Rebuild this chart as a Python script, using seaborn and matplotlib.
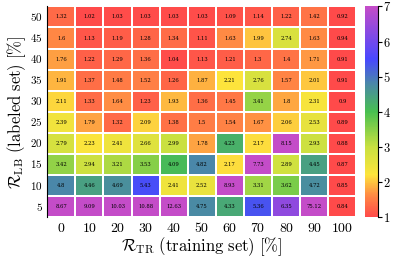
import numpy as np
import pandas as pd
import seaborn as sns
from matplotlib import pyplot as plt
from matplotlib.colors import LinearSegmentedColormap

# training ratio (columns) and labeled ratio (rows, top to bottom)
r_tr = [0, 10, 20, 30, 40, 50, 60, 70, 80, 90, 100]
r_lb = [50, 45, 40, 35, 30, 25, 20, 15, 10, 5]

row_50 = [1.32, 1.02, 1.03, 1.03, 1.03, 1.03, 1.09, 1.14, 1.22, 1.42, 0.92]
row_45 = [1.6, 1.13, 1.19, 1.28, 1.34, 1.11, 1.63, 1.99, 2.74, 1.63, 0.94]
row_40 = [1.76, 1.22, 1.29, 1.36, 1.04, 1.13, 1.21, 1.3, 1.4, 1.71, 0.91]
row_35 = [1.91, 1.37, 1.48, 1.52, 1.26, 1.87, 2.21, 2.76, 1.57, 2.01, 0.91]
row_30 = [2.11, 1.33, 1.64, 1.23, 1.93, 1.36, 1.45, 3.41, 1.8, 2.31, 0.9]
row_25 = [2.39, 1.79, 1.32, 2.09, 1.38, 1.5, 1.54, 1.67, 2.06, 2.53, 0.89]
row_20 = [2.79, 2.23, 2.41, 2.66, 2.99, 1.78, 4.23, 2.17, 8.15, 2.93, 0.88]
row_15 = [3.42, 2.94, 3.21, 3.53, 4.09, 4.82, 2.17, 7.73, 2.89, 4.45, 0.87]
row_10 = [4.8, 4.46, 4.69, 5.43, 2.41, 2.52, 8.93, 3.31, 3.62, 4.72, 0.85]
row_05 = [8.67, 9.09, 10.03, 10.88, 12.63, 4.75, 4.33, 5.36, 6.35, 75.12, 0.84]

df = pd.DataFrame([row_50, row_45, row_40, row_35, row_30, row_25, row_20,
                   row_15, row_10, row_05], index=r_lb, columns=r_tr)

plt.rcParams['mathtext.fontset'] = 'cm'
plt.rcParams['font.family'] = 'serif'
plt.rcParams['font.serif'] = ['DejaVu Serif']

cmap = LinearSegmentedColormap.from_list('rb', [
    (0.0, '#ff4a4a'),
    (0.6 / 6, '#ff8844'),
    (1.2 / 6, '#fde43c'),
    (2.0 / 6, '#c8e040'),
    (3.0 / 6, '#48c050'),
    (3.8 / 6, '#4a88a8'),
    (4.5 / 6, '#4848ff'),
    (1.0, '#c44cc8'),
])

fig = plt.figure(figsize=(3.93, 2.57), dpi=100)
ax = fig.add_axes([0.12, 0.155, 0.787, 0.82])
cax = fig.add_axes([0.928, 0.155, 0.033, 0.82])

annot = df.map(lambda v: f'{v:g}')
sns.heatmap(df, ax=ax, cbar_ax=cax, cmap=cmap, vmin=1, vmax=7,
            annot=annot, fmt='', annot_kws={'fontsize': 3.8, 'color': 'black'},
            linewidths=0.1, linecolor='#ffffff')

ax.set_xticklabels([rf'${v}$' for v in r_tr], rotation=0, fontsize=10)
ax.set_yticklabels([rf'${v}$' for v in r_lb], rotation=0, fontsize=8)
ax.tick_params(length=0, pad=3)
ax.set_xlabel(r'$\mathcal{R}_{\rm TR}\ \mathrm{(training\ set)\ [\%]}$',
              fontsize=12, labelpad=0)
ax.set_ylabel(r'$\mathcal{R}_{\rm LB}\ \mathrm{(labeled\ set)\ [\%]}$',
              fontsize=12, labelpad=2)
ax.spines['left'].set_visible(True)
ax.spines['left'].set_linewidth(0.8)

cax.set_yticks([1, 2, 3, 4, 5, 6, 7])
cax.set_yticklabels([rf'${v}$' for v in range(1, 8)], fontsize=9)
cax.tick_params(length=3, width=0.8, pad=1)
for s in cax.spines.values():
    s.set_visible(False)
cax.spines['right'].set_visible(True)
cax.spines['right'].set_linewidth(0.8)

plt.savefig('out.png', dpi=100)
